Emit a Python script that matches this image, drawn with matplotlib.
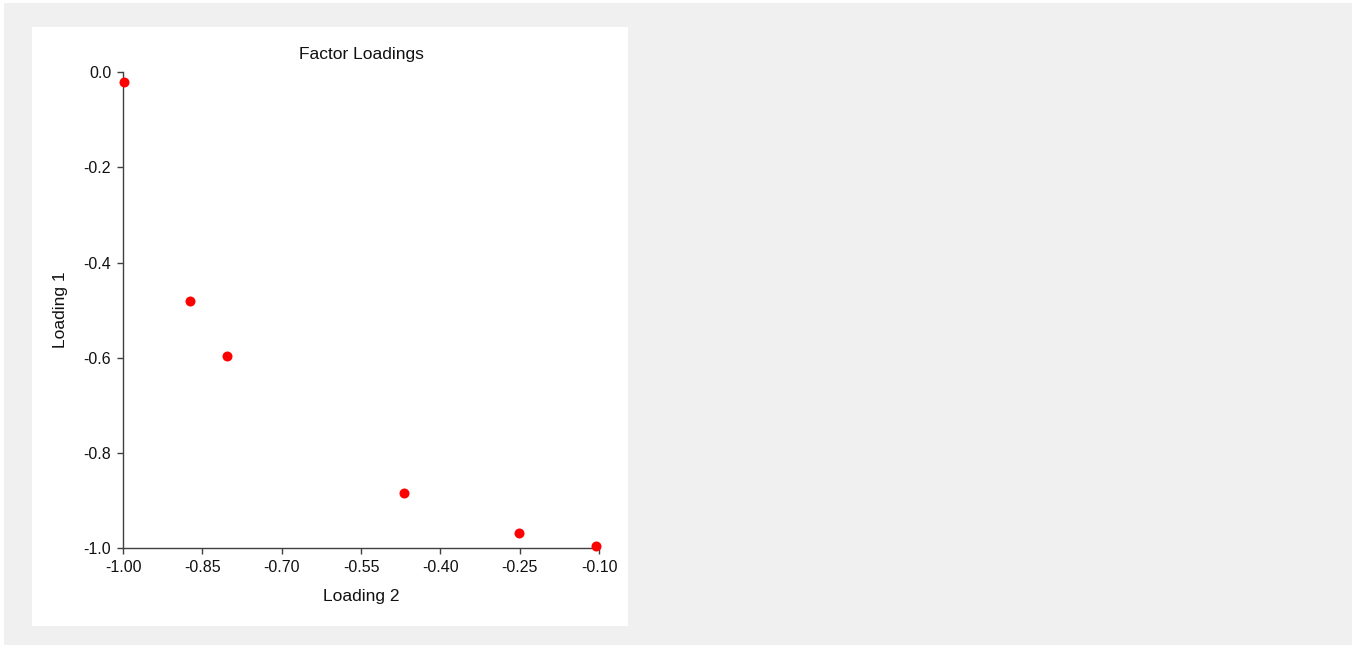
import matplotlib.pyplot as plt
from matplotlib.patches import Rectangle

plt.rcParams['font.family'] = ['Liberation Sans', 'DejaVu Sans']

# factor loadings
loading2 = [-0.998, -0.873, -0.803, -0.468, -0.252, -0.106]
loading1 = [-0.021, -0.480, -0.596, -0.884, -0.968, -0.995]
xticks = [-1.00, -0.85, -0.70, -0.55, -0.40, -0.25, -0.10]
yticks = [0.0, -0.2, -0.4, -0.6, -0.8, -1.0]

W, H = 1356, 648
fig = plt.figure(figsize=(W / 100, H / 100), dpi=100, facecolor='white')

# grey backdrop and white chart panel
fig.patches.append(Rectangle((4 / W, 3 / H), (W - 8) / W, (H - 6) / H,
                             transform=fig.transFigure, facecolor='#f0f0f0',
                             edgecolor='none', zorder=-2))
fig.patches.append(Rectangle((32 / W, 1 - 626 / H), 596 / W, 599 / H,
                             transform=fig.transFigure, facecolor='white',
                             edgecolor='none', zorder=-1))

ax = fig.add_axes([123 / W, 1 - 548.3 / H, 476 / W, 476 / H])
ax.set_facecolor('none')
ax.plot(loading2, loading1, 'o', color='#ff0000', ms=7.2, mec='none',
        clip_on=False, zorder=5)

ax.set_xlim(-1.0, -0.1)
ax.set_ylim(-1.0, 0.0)
ax.set_xticks(xticks)
ax.set_xticklabels([f'{v:.2f}' for v in xticks])
ax.set_yticks(yticks)
ax.set_yticklabels([f'{v:.1f}' for v in yticks])

for s in ['top', 'right']:
    ax.spines[s].set_visible(False)
for s in ['left', 'bottom']:
    ax.spines[s].set_color('#404040')
    ax.spines[s].set_linewidth(1.0)
ax.tick_params(direction='out', length=4.5, width=1.0, color='#404040',
               labelsize=11.5, labelcolor='#111111', pad=4)

fig.text(361 / W, 1 - 54 / H, 'Factor Loadings', ha='center', va='center',
         fontsize=12.5, color='#111111')
fig.text(361 / W, 1 - 596 / H, 'Loading 2', ha='center', va='center',
         fontsize=12.5, color='#111111')
fig.text(60 / W, 1 - 310 / H, 'Loading 1', ha='center', va='center',
         rotation=90, fontsize=12.5, color='#111111')

fig.savefig('out.png', dpi=100, facecolor='white')
